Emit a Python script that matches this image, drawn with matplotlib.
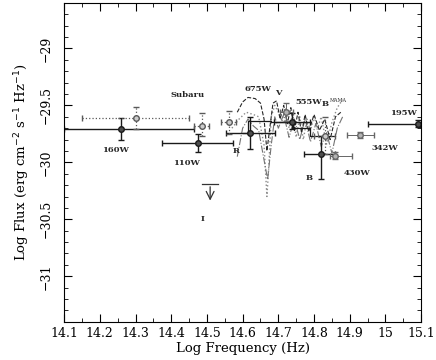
import matplotlib
matplotlib.use("Agg")
import matplotlib.pyplot as plt
from matplotlib.ticker import MultipleLocator

plt.rcParams["font.family"] = ["DejaVu Serif"]

# photometric points with solid error bars (black)
solid_x = [14.26, 14.475, 14.621, 14.739, 14.819, 15.091]
solid_y = [-29.71, -29.83, -29.74, -29.645, -29.93, -29.66]
solid_xlo = [14.10, 14.375, 14.554, 14.688, 14.773, 14.95]
solid_xhi = [14.464, 14.574, 14.691, 14.789, 14.859, 15.10]
solid_ylo = [-29.80, -29.91, -29.88, -29.71, -30.15, -29.69]
solid_yhi = [-29.61, -29.75, -29.60, -29.57, -29.77, -29.63]

# Subaru and MAMA points, dotted error bars (grey)
dot_x = [14.30, 14.487, 14.561, 14.83]
dot_y = [-29.61, -29.68, -29.65, -29.77]
dot_xlo = [14.15, 14.465, 14.539, 14.80]
dot_xhi = [14.45, 14.507, 14.582, 14.86]
dot_ylo = [-29.71, -29.77, -29.75, -29.93]
dot_yhi = [-29.51, -29.57, -29.55, -29.60]

# thin grey solid error bars (555W, 430W, 342W)
grey_x = [14.722, 14.859, 14.93]
grey_y = [-29.56, -29.94, -29.76]
grey_xlo = [14.705, 14.845, 14.892]
grey_xhi = [14.742, 14.906, 14.968]
grey_ylo = [-29.64, -29.97, -29.79]
grey_yhi = [-29.48, -29.91, -29.73]

# upper limit (I band)
lim_x = 14.509
lim_xlo, lim_xhi = 14.487, 14.531
lim_y = -30.19
lim_arrow = 0.17

# spectra
spec1_x = [14.585, 14.60, 14.615, 14.635, 14.65, 14.66, 14.668, 14.676, 14.685, 14.695,
           14.705, 14.715, 14.725, 14.735, 14.745, 14.755, 14.765, 14.775, 14.785, 14.80,
           14.815, 14.83, 14.845, 14.86, 14.875]
spec1_y = [-29.56, -29.47, -29.43, -29.44, -29.48, -29.62, -29.90, -29.70, -29.48, -29.46,
           -29.62, -29.50, -29.66, -29.52, -29.72, -29.56, -29.74, -29.58, -29.73, -29.58,
           -29.72, -29.62, -29.80, -29.60, -29.56]
spec2_x = [14.57, 14.59, 14.61, 14.63, 14.645, 14.66, 14.668, 14.673, 14.68, 14.69,
           14.70, 14.71, 14.72, 14.73, 14.74, 14.75, 14.76, 14.77, 14.78, 14.79,
           14.80, 14.81, 14.82, 14.835, 14.85, 14.865, 14.88]
spec2_y = [-29.70, -29.62, -29.56, -29.58, -29.60, -29.85, -30.30, -30.05, -29.60, -29.50,
           -29.56, -29.64, -29.52, -29.70, -29.58, -29.78, -29.60, -29.80, -29.62, -29.72,
           -29.60, -29.70, -29.60, -29.84, -29.65, -29.52, -29.45]
spec3_x = [14.585, 14.60, 14.615, 14.63, 14.645, 14.66, 14.67, 14.68, 14.69, 14.70,
           14.715, 14.73, 14.745, 14.76, 14.775, 14.79, 14.805, 14.82, 14.835, 14.85,
           14.865, 14.88]
spec3_y = [-29.95, -29.70, -29.62, -29.68, -29.72, -29.98, -30.15, -29.85, -29.60, -29.70,
           -29.58, -29.78, -29.62, -29.80, -29.62, -29.82, -29.66, -29.86, -29.74, -29.92,
           -29.70, -29.60]
step_x = [14.60, 14.615, 14.615, 14.68, 14.68, 14.74, 14.74, 14.79, 14.79, 14.86]
step_y = [-29.74, -29.74, -29.64, -29.64, -29.65, -29.65, -29.70, -29.70, -29.77, -29.77]

# labels
labels = ["Subaru", "160W", "110W", "R", "675W", "V", "555W", "B", "195W", "342W", "430W", "B", "I"]
label_x = [14.447, 14.243, 14.444, 14.582, 14.644, 14.699, 14.784, 14.831, 15.05, 14.999, 14.92, 14.787, 14.487]
label_y = [-29.41, -29.89, -30.01, -29.90, -29.36, -29.39, -29.47, -29.49, -29.57, -29.87, -30.09, -30.14, -30.50]


def asym(c, lo, hi):
    return [[a - b for a, b in zip(c, lo)], [b - a for a, b in zip(c, hi)]]


fig = plt.figure(figsize=(4.36, 3.6), dpi=100)
ax = fig.add_axes([0.147, 0.106, 0.819, 0.886])

ax.plot(spec2_x, spec2_y, color="0.55", ls=":", lw=1.0)
ax.plot(spec3_x, spec3_y, color="0.45", ls="-.", lw=0.8)
ax.plot(spec1_x, spec1_y, color="0.15", ls="--", lw=0.8)
ax.plot(step_x, step_y, color="0.1", lw=0.9)

ax.errorbar(solid_x, solid_y,
            xerr=asym(solid_x, solid_xlo, solid_xhi),
            yerr=asym(solid_y, solid_ylo, solid_yhi),
            fmt="o", color="0.1", ms=4, mfc="0.3", lw=1.0, capsize=2.5)

eb = ax.errorbar(dot_x, dot_y,
                 xerr=asym(dot_x, dot_xlo, dot_xhi),
                 yerr=asym(dot_y, dot_ylo, dot_yhi),
                 fmt="o", color="0.35", ms=4, mfc="0.8", lw=0.9, capsize=2)
for lc in eb[2]:
    lc.set_linestyle(":")

ax.errorbar(grey_x, grey_y,
            xerr=asym(grey_x, grey_xlo, grey_xhi),
            yerr=asym(grey_y, grey_ylo, grey_yhi),
            fmt="o", color="0.4", ms=4, mfc="0.7", lw=0.7, capsize=2)

ax.plot([lim_xlo, lim_xhi], [lim_y, lim_y], color="0.2", lw=0.9)
ax.annotate("", xy=(lim_x, lim_y - lim_arrow), xytext=(lim_x, lim_y),
            arrowprops=dict(arrowstyle="->", color="0.2", lw=0.9, mutation_scale=14))

for t, x, y in zip(labels, label_x, label_y):
    ax.text(x, y, t, fontsize=6, ha="center", va="center", fontweight="bold", color="0.15")
ax.text(14.843, -29.455, "MAMA", fontsize=3.5, ha="left", va="center", color="0.15")

ax.set_xlim(14.1, 15.1)
ax.set_ylim(-31.4, -28.6)
ax.xaxis.set_major_locator(MultipleLocator(0.1))
ax.xaxis.set_minor_locator(MultipleLocator(0.05))
ax.yaxis.set_major_locator(MultipleLocator(0.5))
ax.yaxis.set_minor_locator(MultipleLocator(0.1))
ax.set_xticks([14.1, 14.2, 14.3, 14.4, 14.5, 14.6, 14.7, 14.8, 14.9, 15.0, 15.1])
ax.set_xticklabels(["14.1", "14.2", "14.3", "14.4", "14.5", "14.6", "14.7", "14.8", "14.9", "15", "15.1"])
ax.set_yticks([-31, -30.5, -30, -29.5, -29])
ax.set_yticklabels(["\u221231", "\u221230.5", "\u221230", "\u221229.5", "\u221229"])
ax.tick_params(which="both", direction="in", top=True, right=True, labelsize=9)
ax.tick_params(which="major", length=6)
ax.tick_params(which="minor", length=3)
for lab in ax.get_yticklabels():
    lab.set_rotation(90)
    lab.set_va("center")
ax.tick_params(axis="y", pad=8)

ax.set_xlabel("Log Frequency (Hz)", fontsize=9.5, labelpad=2)
ax.set_ylabel(r"Log Flux (erg cm$^{-2}$ s$^{-1}$ Hz$^{-1}$)", fontsize=9.5, labelpad=6)

fig.savefig("out.png", dpi=100)
